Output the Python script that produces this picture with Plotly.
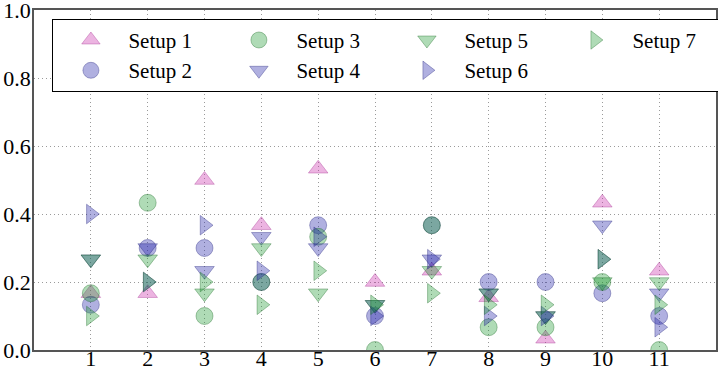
import plotly.graph_objects as go

x_vals = [1, 2, 3, 4, 5, 6, 7, 8, 9, 10, 11]
setup_names = ["Setup 1", "Setup 2", "Setup 3", "Setup 4", "Setup 5", "Setup 6", "Setup 7"]
setup1 = [0.167, 0.167, 0.5, 0.367, 0.533, 0.2, 0.233, 0.155, 0.033, 0.433, 0.233]
setup2 = [0.133, 0.3, 0.3, 0.2, 0.367, 0.1, 0.367, 0.2, 0.2, 0.167, 0.1]
setup3 = [0.167, 0.433, 0.1, 0.2, 0.333, 0.0, 0.367, 0.067, 0.067, 0.2, 0.0]
setup4 = [0.267, 0.3, 0.233, 0.333, 0.3, 0.133, 0.267, 0.167, 0.1, 0.367, 0.167]
setup5 = [0.267, 0.267, 0.167, 0.3, 0.167, 0.133, 0.233, 0.167, 0.1, 0.2, 0.2]
setup6 = [0.4, 0.2, 0.367, 0.233, 0.333, 0.1, 0.267, 0.1, 0.1, 0.267, 0.067]
setup7 = [0.1, 0.2, 0.2, 0.133, 0.233, 0.133, 0.167, 0.133, 0.133, 0.267, 0.133]
y_ticks = [0.0, 0.2, 0.4, 0.6, 0.8, 1.0]

series = [setup1, setup2, setup3, setup4, setup5, setup6, setup7]
symbols = ["triangle-up", "circle", "circle", "triangle-down", "triangle-down",
           "triangle-right", "triangle-right"]
PINK = "rgba(200,40,170,0.35)"
BLUE = "rgba(35,35,170,0.36)"
GREEN = "rgba(20,150,40,0.34)"
PINK_E = "rgba(160,40,140,0.35)"
BLUE_E = "rgba(30,30,120,0.35)"
GREEN_E = "rgba(20,100,30,0.35)"
fills = [PINK, BLUE, GREEN, BLUE, GREEN, BLUE, GREEN]
edges = [PINK_E, BLUE_E, GREEN_E, BLUE_E, GREEN_E, BLUE_E, GREEN_E]
ranks = [1, 5, 2, 6, 3, 7, 4]

fig = go.Figure()
for name, vals, sym, fc, ec, rk in zip(setup_names, series, symbols, fills, edges, ranks):
    fig.add_trace(go.Scatter(
        x=x_vals, y=vals, mode="markers", name=name, legendrank=rk,
        marker=dict(symbol=sym, size=17, color=fc, line=dict(color=ec, width=1)),
    ))

font = "Liberation Serif, Times New Roman, serif"
fig.update_layout(
    width=718, height=370,
    margin=dict(l=34, r=2, t=10, b=20, autoexpand=False),
    paper_bgcolor="white", plot_bgcolor="white",
    font=dict(family=font, size=20, color="black"),
    showlegend=True,
    legend=dict(
        orientation="h", x=0.027, y=0.974, xanchor="left", yanchor="top",
        bordercolor="black", borderwidth=1, bgcolor="white",
        entrywidth=88, entrywidthmode="pixels", itemwidth=65,
        font=dict(family=font, size=21), tracegroupgap=0,
    ),
)
fig.update_xaxes(
    range=[0, 12], tickvals=x_vals, showgrid=True, gridcolor="#9a9a9a",
    griddash="1px,3px", gridwidth=1, showline=True, linecolor="#555555", linewidth=1.5,
    mirror=True, ticks="", zeroline=False, tickfont=dict(family=font, size=22),
    ticklabeloverflow="allow", ticklabelstandoff=-12,
)
fig.update_yaxes(
    range=[0, 1], tickvals=y_ticks, tickformat=".1f", showgrid=True, gridcolor="#9a9a9a",
    griddash="1px,3px", gridwidth=1, showline=True, linecolor="#555555", linewidth=1.5,
    mirror=True, ticks="", zeroline=False, tickfont=dict(family=font, size=22),
    ticklabeloverflow="allow", ticklabelstandoff=-3,
)
fig.write_html("out.html", config={"displayModeBar": False},
               post_script="document.body.style.margin='0';")
